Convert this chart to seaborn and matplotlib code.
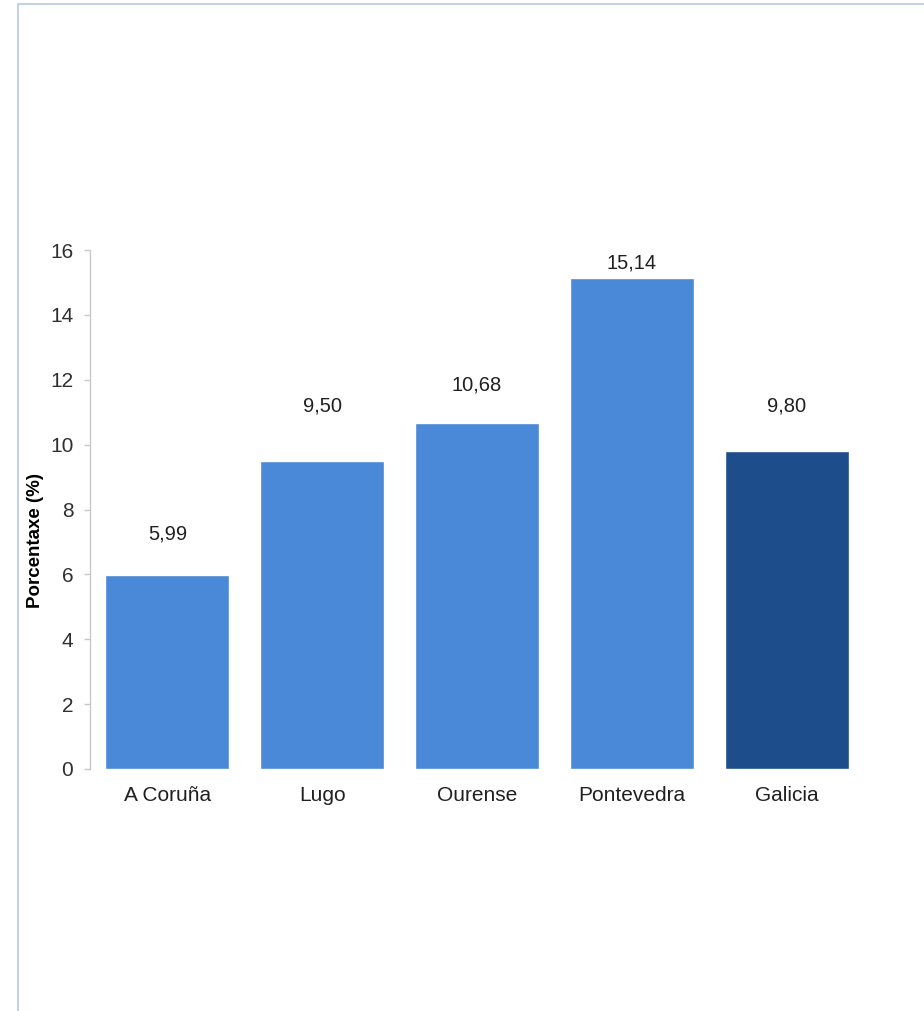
import matplotlib
matplotlib.use("Agg")
import matplotlib.pyplot as plt
import seaborn as sns
import pandas as pd
from matplotlib.patches import Rectangle

categories = ["A Coruña", "Lugo", "Ourense", "Pontevedra", "Galicia"]
values = [5.99, 9.50, 10.68, 15.14, 9.80]
value_labels = ["5,99", "9,50", "10,68", "15,14", "9,80"]
yticks = [0, 2, 4, 6, 8, 10, 12, 14, 16]

colors = ["#4a88d8", "#4a88d8", "#4a88d8", "#4a88d8", "#1e4d8c"]
label_offsets_px = [41, 55, 38, 15, 45]

sns.set_theme(style="white")
plt.rcParams["font.family"] = ["Liberation Sans", "DejaVu Sans"]

df = pd.DataFrame({"cat": categories, "val": values})

fig = plt.figure(figsize=(9.24, 10.11), dpi=100)
ax = fig.add_axes([90 / 924, 1 - 769 / 1011, (864 - 90) / 924, (769 - 250) / 1011])

sns.barplot(data=df, x="cat", y="val", hue="cat", palette=colors, dodge=False,
            legend=False, width=0.8, saturation=1, ax=ax)

ax.set_xlim(-0.5, 4.5)
ax.set_ylim(0, 16)
ax.set_yticks(yticks)
ax.set_yticklabels([str(t) for t in yticks])
ax.set_xlabel("")
ax.set_ylabel("Porcentaxe (%)", fontsize=13.5, fontweight="bold", color="#000000")
ax.yaxis.set_label_coords(-0.0594, 0.441)

for s in ["top", "right", "bottom"]:
    ax.spines[s].set_visible(False)
ax.spines["left"].set_color("#c8c8c8")
ax.spines["left"].set_linewidth(1.0)

ax.tick_params(axis="y", which="both", left=True, length=4, width=1, color="#c8c8c8",
               labelsize=15, labelcolor="#303030", pad=8)
ax.tick_params(axis="x", length=0, labelsize=15, labelcolor="#202020", pad=12)

for i, (v, lab) in enumerate(zip(values, value_labels)):
    ax.annotate(lab, xy=(i, v), xytext=(0, label_offsets_px[i] * 0.72),
                textcoords="offset points", ha="center", va="center",
                fontsize=14.5, color="#202020")

fig.patches.append(Rectangle((18 / 924, -0.01), 1.0, 1 - 4 / 1011 + 0.01,
                             transform=fig.transFigure, fill=False,
                             edgecolor="#b4cbe8", linewidth=1.2, zorder=0))

fig.savefig("out.png", dpi=100)
